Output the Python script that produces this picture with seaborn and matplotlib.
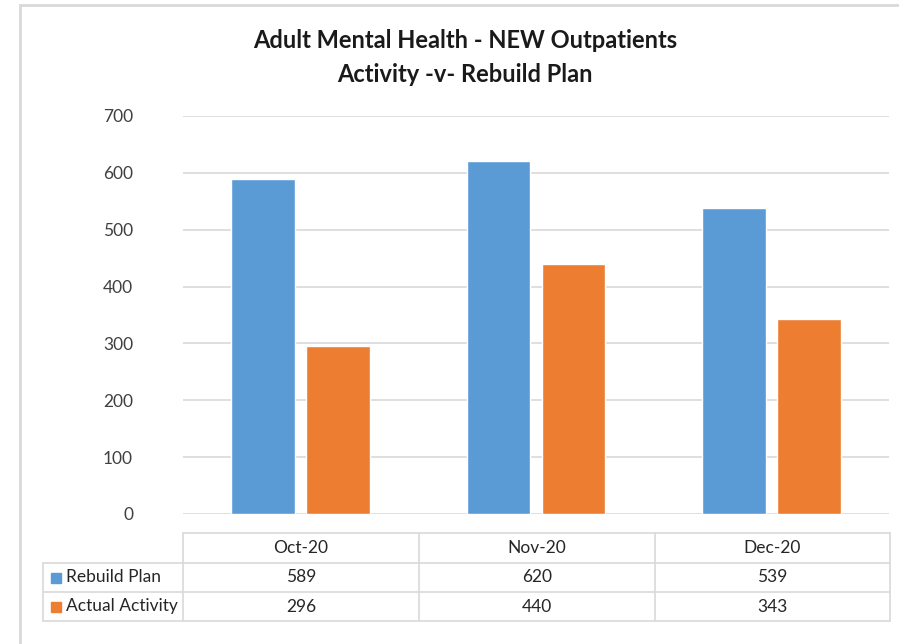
import pandas as pd
import seaborn as sns
import matplotlib.pyplot as plt
from matplotlib.patches import Rectangle

sns.set_theme(style="white")
plt.rcParams["font.family"] = ["Lato", "DejaVu Sans"]

months = ["Oct-20", "Nov-20", "Dec-20"]
series = ["Rebuild Plan", "Actual Activity"]
rebuild_plan = [589, 620, 539]
actual_activity = [296, 440, 343]
colors = ["#5B9BD5", "#ED7D31"]
y_ticks = [0, 100, 200, 300, 400, 500, 600, 700]

df = pd.DataFrame({
    "month": months * 2,
    "series": [series[0]] * 3 + [series[1]] * 3,
    "value": rebuild_plan + actual_activity,
})

W, H = 899, 644
AX_L, AX_B, AX_W, AX_H = 183, 514, 706, 398

fig = plt.figure(figsize=(W / 100, H / 100), dpi=100)
ax = fig.add_axes([AX_L / W, 1 - AX_B / H, AX_W / W, AX_H / H])

sns.barplot(data=df, x="month", y="value", hue="series", palette=colors,
            width=0.6375, gap=0.147, ax=ax, legend=False, saturation=1)

ax.set_ylim(0, 700)
ax.set_yticks(y_ticks)
ax.set_xlim(-0.5, 2.5)
ax.yaxis.grid(True, color="#d9d9d9", linewidth=1.2)
ax.set_axisbelow(True)
for s in ax.spines.values():
    s.set_visible(False)
ax.tick_params(axis="y", length=0, pad=36, labelsize=12.5, labelcolor="#404040")
ax.set_xticks([])
ax.set_xlabel("")
ax.set_ylabel("")


# data table under the plot, laid out in pixel positions of the chart
def ax_x(px):
    return (px - AX_L) / AX_W


def ax_y(py):
    return (AX_B - py) / AX_H


line_kw = dict(transform=ax.transAxes, clip_on=False, color="#d9d9d9", lw=1.2)
col_edges = [183, 419, 655, 890]
row_edges = [533, 563, 592, 621]
label_left = 43

# horizontal lines
ax.plot([ax_x(col_edges[0]), ax_x(col_edges[-1])], [ax_y(row_edges[0])] * 2, **line_kw)
for py in row_edges[1:]:
    ax.plot([ax_x(label_left), ax_x(col_edges[-1])], [ax_y(py)] * 2, **line_kw)
# vertical lines
ax.plot([ax_x(label_left)] * 2, [ax_y(row_edges[1]), ax_y(row_edges[-1])], **line_kw)
for px in col_edges:
    ax.plot([ax_x(px)] * 2, [ax_y(row_edges[0]), ax_y(row_edges[-1])], **line_kw)

txt_kw = dict(transform=ax.transAxes, fontsize=12.5, color="#262626", va="center")
for j, m in enumerate(months):
    xc = ax_x((col_edges[j] + col_edges[j + 1]) / 2)
    ax.text(xc, ax_y((row_edges[0] + row_edges[1]) / 2), m, ha="center", **txt_kw)
    for i, vals in enumerate([rebuild_plan, actual_activity]):
        yc = ax_y((row_edges[i + 1] + row_edges[i + 2]) / 2)
        ax.text(xc, yc, str(vals[j]), ha="center", **txt_kw)

for i, (s, col) in enumerate(zip(series, colors)):
    yc = (row_edges[i + 1] + row_edges[i + 2]) / 2
    ax.add_patch(Rectangle((ax_x(51), ax_y(yc + 5)), 10 / AX_W, 10 / AX_H,
                           transform=ax.transAxes, color=col, clip_on=False))
    ax.text(ax_x(66), ax_y(yc), s, ha="left", **txt_kw)

fig.text(465 / W, 1 - 41 / H, "Adult Mental Health - NEW Outpatients",
         ha="center", va="center", fontsize=17, fontweight="bold", color="#1a1a1a")
fig.text(465 / W, 1 - 74 / H, "Activity -v- Rebuild Plan",
         ha="center", va="center", fontsize=17, fontweight="bold", color="#1a1a1a")

# outer chart frame
fig.add_artist(Rectangle((20 / W, -0.1), 1.2, 1 - 5 / H + 0.1,
                         transform=fig.transFigure, fill=False,
                         edgecolor="#d9d9d9", linewidth=2))

fig.savefig("out.png", dpi=100)
